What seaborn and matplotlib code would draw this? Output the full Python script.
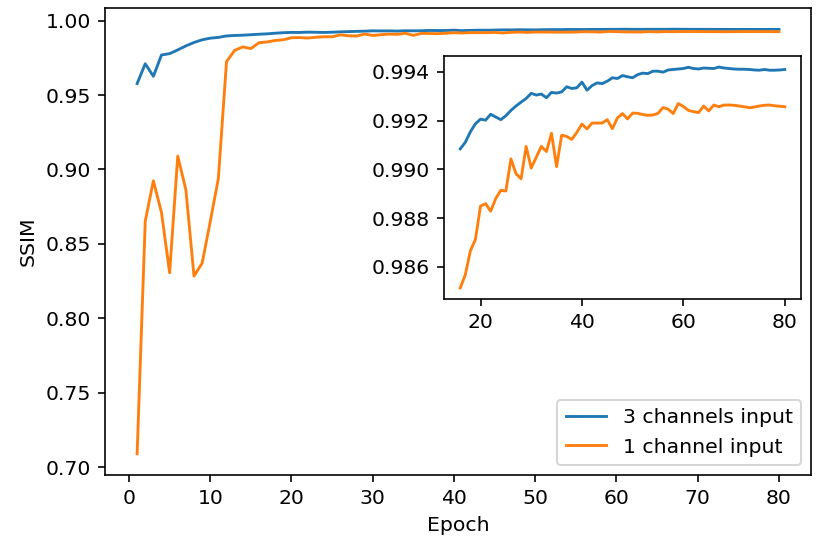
import matplotlib
matplotlib.use("Agg")
import matplotlib.pyplot as plt
import seaborn as sns
import pandas as pd

epochs = list(range(1, 81))

ssim_3ch = [
    0.9577, 0.9710, 0.9626, 0.9769, 0.9778, 0.9803, 0.9830, 0.9853, 0.9871, 0.9882,
    0.9887, 0.9897, 0.9900, 0.9902, 0.9905, 0.99084, 0.99111, 0.99154, 0.99187, 0.99206,
    0.99202, 0.99226, 0.99215, 0.99204, 0.99220, 0.99242, 0.99260, 0.99276, 0.99291, 0.99312,
    0.99305, 0.99309, 0.99294, 0.99316, 0.99313, 0.99318, 0.99339, 0.99332, 0.99335, 0.99358,
    0.99325, 0.99344, 0.99355, 0.99352, 0.99362, 0.99376, 0.99373, 0.99385, 0.99380, 0.99376,
    0.99389, 0.99395, 0.99393, 0.99403, 0.99403, 0.99399, 0.99408, 0.99410, 0.99412, 0.99414,
    0.99419, 0.99414, 0.99412, 0.99416, 0.99415, 0.99414, 0.99420, 0.99416, 0.99414, 0.99412,
    0.99411, 0.99411, 0.99410, 0.99408, 0.99407, 0.99410, 0.99407, 0.99407, 0.99408, 0.99410,
]

ssim_1ch = [
    0.7090, 0.8653, 0.8924, 0.8710, 0.8306, 0.9090, 0.8863, 0.8284, 0.8370, 0.8650,
    0.8940, 0.9724, 0.9800, 0.9823, 0.9812, 0.98513, 0.98567, 0.98665, 0.98713, 0.98849,
    0.98859, 0.98828, 0.98880, 0.98914, 0.98911, 0.99043, 0.98982, 0.98961, 0.99094, 0.99005,
    0.99050, 0.99094, 0.99073, 0.99148, 0.99011, 0.99140, 0.99135, 0.99123, 0.99152, 0.99186,
    0.99166, 0.99190, 0.99190, 0.99190, 0.99204, 0.99167, 0.99211, 0.99229, 0.99207, 0.99231,
    0.99230, 0.99225, 0.99222, 0.99223, 0.99230, 0.99254, 0.99247, 0.99229, 0.99270, 0.99258,
    0.99242, 0.99237, 0.99233, 0.99260, 0.99240, 0.99264, 0.99257, 0.99264, 0.99264, 0.99263,
    0.99260, 0.99257, 0.99253, 0.99256, 0.99260, 0.99263, 0.99264, 0.99261, 0.99259, 0.99257,
]

series_names = ["3 channels input", "1 channel input"]
inset_start = 16

plt.rcParams['font.family'] = ['DejaVu Sans']
plt.rcParams['font.size'] = 10

df = pd.DataFrame({
    "Epoch": epochs * 2,
    "SSIM": ssim_3ch + ssim_1ch,
    "Series": [series_names[0]] * len(epochs) + [series_names[1]] * len(epochs),
})
palette = {series_names[0]: "#1f77b4", series_names[1]: "#ff7f0e"}

DPI = 147
fig = plt.figure(figsize=(831 / DPI, 548 / DPI), dpi=DPI)
ax = fig.add_axes([0.1264, 0.1332, 0.8496, 0.8522])
sns.lineplot(data=df, x="Epoch", y="SSIM", hue="Series", palette=palette,
             linewidth=1.4, ax=ax)
ax.set_xticks(range(0, 81, 10))
ax.set_yticks([0.70, 0.75, 0.80, 0.85, 0.90, 0.95, 1.00])
ax.set_yticklabels(["0.70", "0.75", "0.80", "0.85", "0.90", "0.95", "1.00"])
ax.set_xlabel("Epoch")
ax.set_ylabel("SSIM")
ax.legend(title=None, loc="lower right")

ins = fig.add_axes([0.5343, 0.4544, 0.4296, 0.4434])
dfi = df[df["Epoch"] >= inset_start]
sns.lineplot(data=dfi, x="Epoch", y="SSIM", hue="Series", palette=palette,
             linewidth=1.4, ax=ins, legend=False)
ins.set_xticks([20, 40, 60, 80])
ins.set_yticks([0.986, 0.988, 0.990, 0.992, 0.994])
ins.set_yticklabels(["0.986", "0.988", "0.990", "0.992", "0.994"])
ins.set_xlabel("")
ins.set_ylabel("")

fig.savefig("out.png", dpi=DPI)
